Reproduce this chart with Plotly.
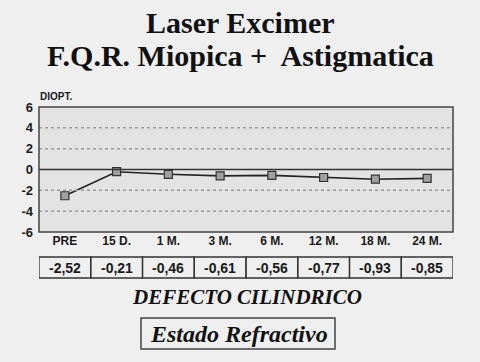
import plotly.graph_objects as go

categories = ["PRE", "15 D.", "1 M.", "3 M.", "6 M.", "12 M.", "18 M.", "24 M."]
values = [-2.52, -0.21, -0.46, -0.61, -0.56, -0.77, -0.93, -0.85]
value_labels = ["-2,52", "-0,21", "-0,46", "-0,61", "-0,56", "-0,77", "-0,93", "-0,85"]
y_ticks = [-6, -4, -2, 0, 2, 4, 6]

SANS = "Liberation Sans, Arial, sans-serif"
SERIF = "Liberation Serif, Times New Roman, serif"
xs = list(range(len(categories)))

L, R, T, B = 39, 27, 107, 130
W, H = 480, 362
pw, ph = W - L - R, H - T - B


def px_x(x):
    return (x - L) / pw


def px_y(y):
    return (H - B - y) / ph


fig = go.Figure()
fig.add_trace(go.Scatter(
    x=xs, y=values, mode="lines+markers",
    line=dict(color="#222222", width=1.6),
    marker=dict(symbol="square", size=8, color="#a0a0a0",
                line=dict(color="#333333", width=1.2)),
    showlegend=False, hoverinfo="skip"))

shapes = []
for t in y_ticks:
    if t in (-6, 6):
        continue
    if t == 0:
        shapes.append(dict(type="line", xref="paper", yref="y", x0=0, x1=1, y0=0, y1=0,
                           line=dict(color="#333333", width=1.5)))
    else:
        shapes.append(dict(type="line", xref="paper", yref="y", x0=0, x1=1, y0=t, y1=t,
                           line=dict(color="#999999", width=1.5, dash="dot")))
shapes.append(dict(type="rect", xref="paper", yref="paper", x0=0, x1=1, y0=0, y1=1,
                   line=dict(color="#444444", width=1.5)))

annotations = []
tbl_y0, tbl_y1 = px_y(278), px_y(257)
for i, lab in enumerate(value_labels):
    shapes.append(dict(type="rect", xref="x", yref="paper", x0=i - 0.5, x1=i + 0.5,
                       y0=tbl_y0, y1=tbl_y1, line=dict(color="#333333", width=1.3),
                       fillcolor="rgba(0,0,0,0)"))
    annotations.append(dict(x=i, y=(tbl_y0 + tbl_y1) / 2, xref="x", yref="paper",
                            text="<b>%s</b>" % lab, showarrow=False,
                            xanchor="center", yanchor="middle",
                            font=dict(family=SANS, size=14, color="#1a1a1a")))

cx = px_x(W / 2)
annotations += [
    dict(x=cx, y=px_y(22), text="<b>Laser Excimer</b>",
         font=dict(family=SERIF, size=30, color="#111111")),
    dict(x=cx, y=px_y(55), text="<b>F.Q.R. Miopica +  Astigmatica</b>",
         font=dict(family=SERIF, size=30, color="#111111")),
    dict(x=px_x(38), y=px_y(97), text="<b>DIOPT.</b>", xanchor="left",
         font=dict(family=SANS, size=10, color="#1a1a1a")),
    dict(x=px_x(247), y=px_y(297), text="<b><i>DEFECTO CILINDRICO</i></b>",
         font=dict(family=SERIF, size=21, color="#111111")),
    dict(x=px_x(239), y=px_y(334), text="<b><i>Estado Refractivo</i></b>",
         font=dict(family=SERIF, size=24, color="#111111")),
]
for a in annotations[len(value_labels):]:
    a.setdefault("xanchor", "center")
    a["yanchor"] = "middle"
    a["xref"] = "paper"
    a["yref"] = "paper"
    a["showarrow"] = False

shapes.append(dict(type="rect", xref="paper", yref="paper",
                   x0=px_x(141), x1=px_x(335), y0=px_y(349), y1=px_y(318),
                   line=dict(color="#444444", width=1.5)))

fig.update_layout(
    width=W, height=H,
    margin=dict(l=L, r=R, t=T, b=B),
    paper_bgcolor="#efefef",
    plot_bgcolor="#e3e3e3",
    shapes=shapes,
    annotations=annotations,
    xaxis=dict(range=[-0.5, 7.5], tickmode="array", tickvals=xs,
               ticktext=["<b>%s</b>" % c for c in categories],
               showgrid=False, zeroline=False, showline=False, ticks="",
               tickfont=dict(family=SANS, size=12, color="#1a1a1a"), fixedrange=True),
    yaxis=dict(range=[-6, 6], tickmode="array", tickvals=y_ticks,
               ticktext=["<b>%d</b>" % t for t in y_ticks],
               showgrid=False, zeroline=False, showline=False, ticks="",
               ticklabelstandoff=5,
               tickfont=dict(family=SANS, size=13, color="#1a1a1a"), fixedrange=True),
)

fig.write_html("out.html")
